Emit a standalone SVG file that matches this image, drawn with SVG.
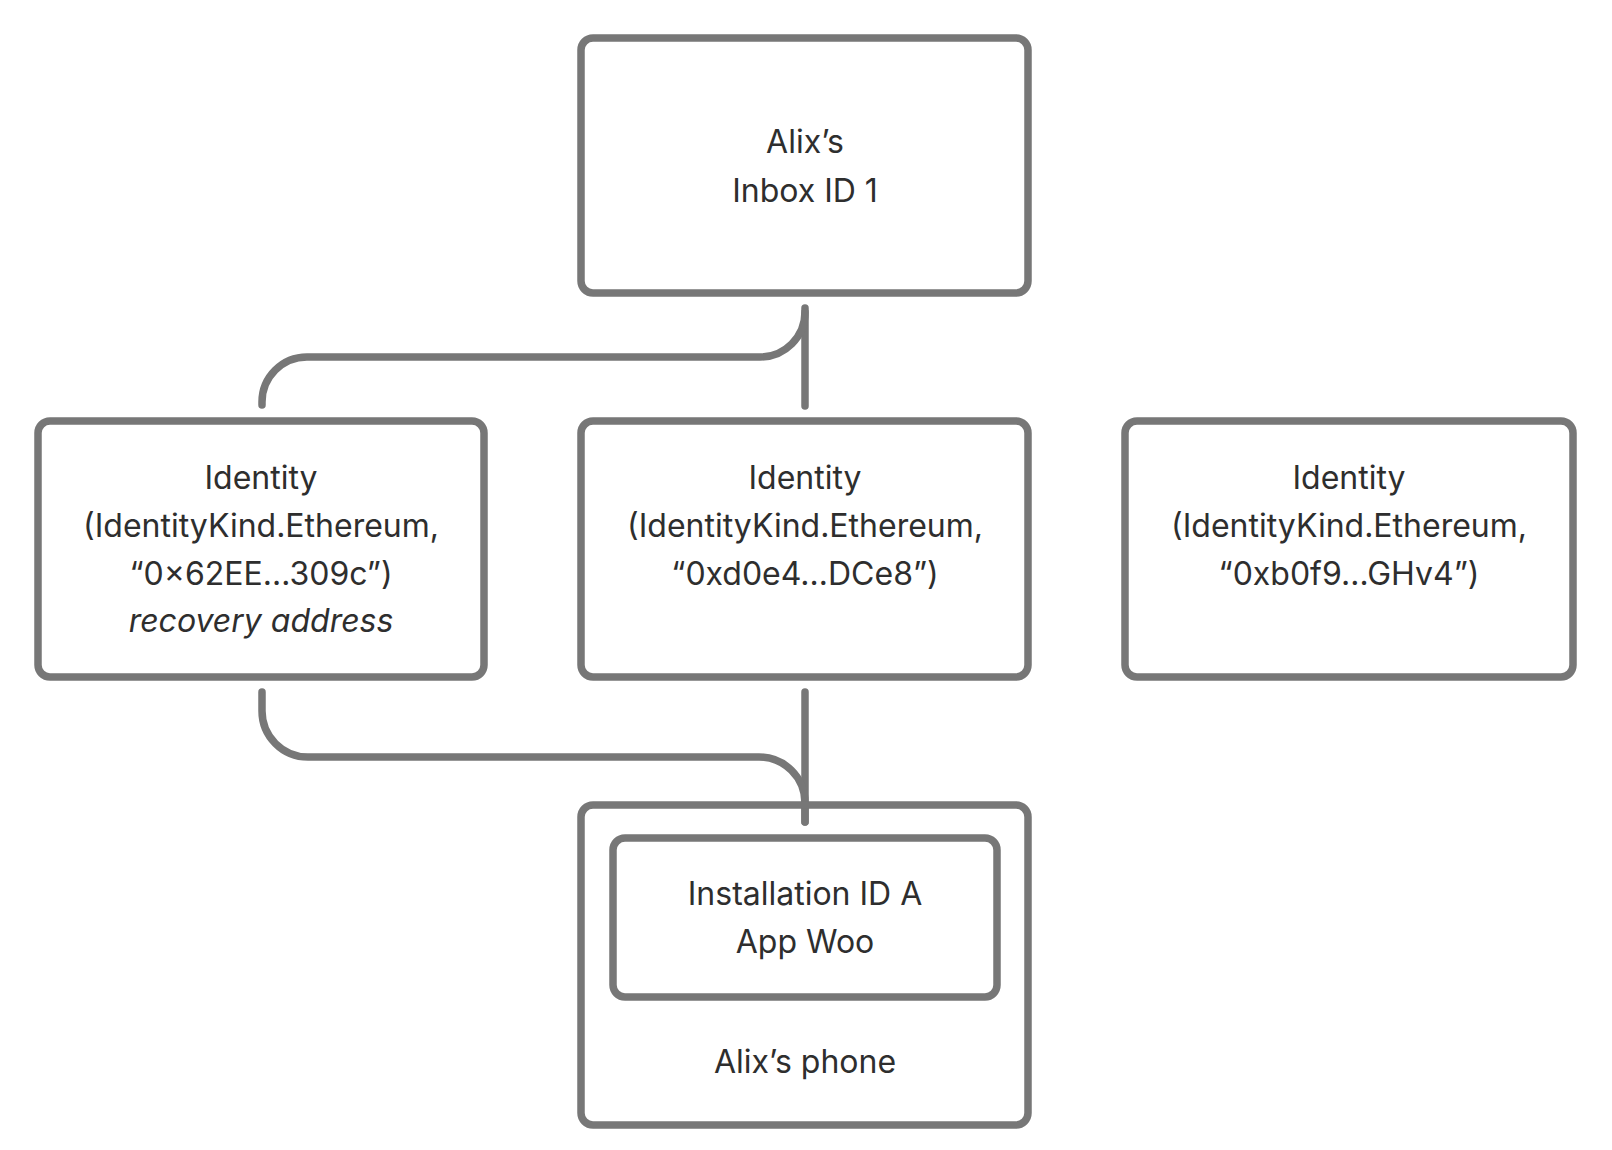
<svg xmlns="http://www.w3.org/2000/svg" width="1612" height="1150" viewBox="0 0 1612 1150">
<style>
.box{fill:#fff;stroke:#777;stroke-width:7.5}
.con{fill:none;stroke:#777;stroke-width:7.5;stroke-linecap:round}
text{font-family:Inter,"Noto Sans","Liberation Sans",sans-serif;font-size:32px;fill:#2e2e2e;text-anchor:middle}
.it{font-style:italic}
</style>
<rect width="1612" height="1150" fill="#fff"/>
<g id="connectors">
<path class="con" d="M805 308 L805 406"/>
<path class="con" d="M805 312 A45 45 0 0 1 760 357 L307 357 A45 45 0 0 0 262 402 L262 405"/>
<path class="con" d="M805 692 L805 822"/>
<path class="con" d="M262 692 L262 711 A46 46 0 0 0 308 757 L759 757 A46 46 0 0 1 805 803 L805 822"/>
</g>
<g id="inbox">
<rect class="box" x="581" y="38" width="447" height="255" rx="12"/>
<text x="805" y="153">Alix’s</text>
<text x="805" y="202">Inbox ID 1</text>
</g>
<g id="identity1">
<rect class="box" x="38" y="421" width="446" height="256" rx="12"/>
<text x="261" y="489">Identity</text>
<text x="261" y="537">(IdentityKind.Ethereum,</text>
<text x="261" y="585">“0×62EE…309c”)</text>
<text class="it" x="261" y="632">recovery address</text>
</g>
<g id="identity2">
<rect class="box" x="581" y="421" width="447" height="256" rx="12"/>
<text x="805" y="489">Identity</text>
<text x="805" y="537">(IdentityKind.Ethereum,</text>
<text x="805" y="585">“0xd0e4…DCe8”)</text>
</g>
<g id="identity3">
<rect class="box" x="1125" y="421" width="448" height="256" rx="12"/>
<text x="1349" y="489">Identity</text>
<text x="1349" y="537">(IdentityKind.Ethereum,</text>
<text x="1349" y="585">“0xb0f9…GHv4”)</text>
</g>
<g id="phone">
<rect class="box" x="581" y="805" width="447" height="320" rx="12" style="fill:none"/>
<text x="805" y="1073">Alix’s phone</text>
</g>
<g id="installation">
<rect class="box" x="613" y="838" width="384" height="159" rx="12"/>
<text x="805" y="905">Installation ID A</text>
<text x="805" y="953">App Woo</text>
</g>
</svg>
